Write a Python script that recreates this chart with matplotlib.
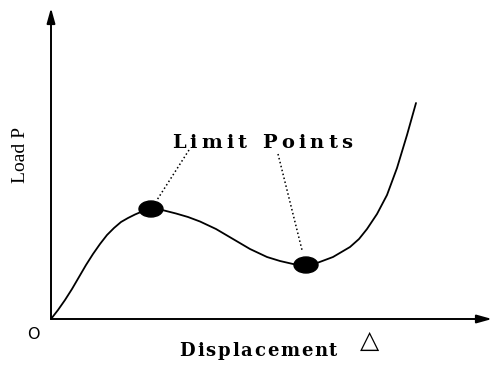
import numpy as np
import matplotlib
matplotlib.use("Agg")
from matplotlib import pyplot
from matplotlib.patches import Ellipse
from matplotlib.font_manager import FontProperties, findfont
from matplotlib.ft2font import FT2Font

# load-displacement path (displacement, load), snap-through shape
disp = [0, 7, 14, 21, 28, 35, 42, 49, 56, 63, 70, 77, 84, 91, 100,
        106, 112, 125, 137, 149, 165, 182, 199, 216, 229, 242, 254,
        266, 282, 299, 308, 316, 326, 336, 346, 356, 365]
load = [0, 9, 19, 30, 42, 54, 65, 75, 84, 91, 97, 101, 104.5, 107.5, 110,
        109.7, 108.8, 105.5, 102, 97.5, 90, 80, 70, 62, 58, 55, 54,
        56, 62, 72, 80, 90, 105, 124, 151, 184, 216]

# the two limit points (local max and local min of the load)
limit_disp = [100, 255]
limit_load = [110, 54]

label_text = "Limit Points"
xlabel_text = "Displacement"
ylabel_text = "Load P"


def tracked_text(ax, xc, y, s, size, gap, family="DejaVu Serif", weight="bold"):
    # letter-spaced text, one glyph at a time (x units are pixels here)
    prop = FontProperties(family=family, weight=weight, size=size)
    font = FT2Font(findfont(prop))
    font.set_size(size, 100)
    adv = [font.load_char(ord(c)).linearHoriAdvance / 65536 for c in s]
    total = sum(adv) + gap * (len(s) - 1)
    x = xc - total / 2
    for c, a in zip(s, adv):
        if c != " ":
            ax.text(x, y, c, ha="left", va="baseline", fontproperties=prop)
        x += a + gap


fig = pyplot.figure(figsize=(4.9, 3.67), dpi=100)
ax = fig.add_axes([0, 0, 1, 1])
ax.set_xlim(-51, 439)
ax.set_ylim(-48, 319)
ax.axis("off")

# axes with arrow heads
head = dict(arrowstyle="-|>,head_length=0.9,head_width=0.25",
            lw=1.4, color="black", shrinkA=0, shrinkB=0)
ax.annotate("", xy=(0, 311), xytext=(0, 0), arrowprops=head, annotation_clip=False)
ax.annotate("", xy=(441, 0), xytext=(0, 0), arrowprops=head, annotation_clip=False)

ax.plot(disp, load, color="black", lw=1.3, solid_capstyle="round",
        solid_joinstyle="round")

for x, y in zip(limit_disp, limit_load):
    ax.add_patch(Ellipse((x, y), 24, 16, color="black", zorder=3))

# dotted leaders from the label to each point
ax.plot([138, limit_disp[0] + 6], [169, limit_load[0] + 9], ls=":", color="black", lw=1.1)
ax.plot([227, limit_disp[1] - 4], [165, limit_load[1] + 15], ls=":", color="black", lw=1.1)

tracked_text(ax, 211, 171, label_text, 14, 4.2)
tracked_text(ax, 207.5, -37.5, xlabel_text, 13, 1.8)
ax.text(319, -22, "\u25b3", ha="center", va="center", fontsize=18,
        family="DejaVu Sans")
ax.text(-31, 164, ylabel_text, ha="center", va="center", fontsize=14,
        rotation=90, family="Liberation Serif")
ax.text(-17.5, -15.5, "O", ha="center", va="center", fontsize=11.5,
        family="DejaVu Sans")

fig.savefig("out.png", dpi=100)
